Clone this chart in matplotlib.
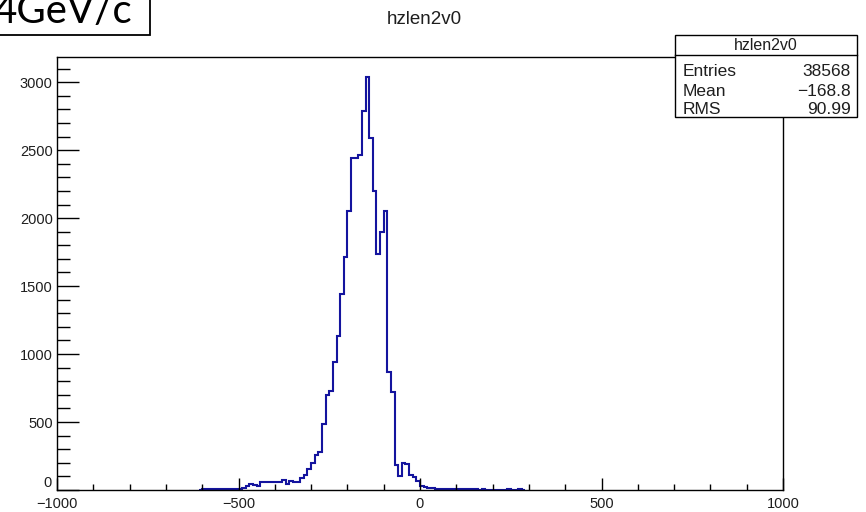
import matplotlib
matplotlib.use("Agg")
import numpy as np
import matplotlib.pyplot as plt
from matplotlib.patches import Rectangle
from matplotlib.ticker import MultipleLocator

# ---------------- data ----------------
hist_title = "hzlen2v0"
bin_width = 10
first_bin_left = -610
counts = [
    3, 5, 4, 6, 5, 6, 8, 7, 9, 8, 10, 9, 12,            # -610 .. -490
    29, 44, 40, 30, 61, 61, 61, 61, 61, 61,              # -480 .. -390
    74, 44, 69, 59, 59, 86, 110, 152, 196, 257, 282,     # -380 .. -280
    483, 698, 730, 944, 1132, 1441, 1716, 2051,          # -270 .. -200
    2439, 2439, 2463, 2789, 3039, 2586, 2201, 1733,      # -190 .. -120
    1900, 2051, 870, 718, 184, 103, 196, 190,            # -110 .. -40
    110, 93, 69,                                         # -30 .. -10
    29, 22, 15, 12, 8, 10, 6, 5, 8, 6, 10, 5, 6, 4, 5,   # 0 .. 140
    4, 3, 4, 3, 0, 0, 0, 0, 0, 4, 0, 0, 4, 3,            # 150 .. 280
]
x_range = (-1000, 1000)
y_max = 3185
x_major = [-1000, -500, 0, 500, 1000]
y_major = [0, 500, 1000, 1500, 2000, 2500, 3000]
stat_names = ["Entries", "Mean", "RMS"]
stat_values = ["38568", "\u2212168.8", "90.99"]
corner_label = "4GeV/c"

# ---------------- figure ----------------
W, H = 866, 512
fig = plt.figure(figsize=(W / 100, H / 100), dpi=100)
fig.patch.set_facecolor("white")
FONT = ["Liberation Sans", "DejaVu Sans"]
TXT = "#1e1e1e"


def fx(px):
    return px / W


def fy(py):
    return 1 - py / H


ax = fig.add_axes([fx(57), fy(490), fx(783) - fx(57), fy(57) - fy(490)])

edges = first_bin_left + bin_width * np.arange(len(counts) + 1)
ax.stairs(counts, edges, color="#14149e", lw=1.5, zorder=1)

ax.set_xlim(*x_range)
ax.set_ylim(0, y_max)
ax.set_xticks(x_major)
ax.set_xticklabels([f"{v}".replace("-", "\u2212") for v in x_major],
                   fontfamily=FONT, fontsize=10.5)
ax.set_yticks(y_major)
ax.set_yticklabels([("" if v == 0 else str(v)) for v in y_major],
                   fontfamily=FONT, fontsize=10.5)
ax.xaxis.set_minor_locator(MultipleLocator(100))
ax.yaxis.set_minor_locator(MultipleLocator(100))
ax.tick_params(axis="x", which="major", direction="in", length=9, width=1.0,
               pad=5, labelcolor=TXT)
ax.tick_params(axis="x", which="minor", direction="in", length=4.5, width=1.0)
ax.tick_params(axis="y", which="major", direction="in", length=16, width=1.0,
               pad=3, labelcolor=TXT)
ax.tick_params(axis="y", which="minor", direction="in", length=9, width=1.0)
ax.tick_params(top=False, right=False)
for s in ax.spines.values():
    s.set_linewidth(1.0)
    s.set_zorder(3)

# y "0" label sits just above the axis like ROOT does
ax.text(-0.008, 0.002, "0", transform=ax.get_yaxis_transform(), ha="right",
        va="bottom", fontfamily=FONT, fontsize=10.5, color=TXT)

# title
fig.text(fx(424), fy(19), hist_title, ha="center", va="center",
         fontfamily=FONT, fontsize=13.5, color=TXT)

# stats box
bx0, by0, bx1, by1 = 675, 35, 857, 117
fig.patches.append(Rectangle((fx(bx0), fy(by1)), fx(bx1) - fx(bx0),
                             fy(by0) - fy(by1), transform=fig.transFigure,
                             facecolor="white", edgecolor="black", lw=1.0,
                             zorder=5))
fig.add_artist(plt.Line2D([fx(bx0), fx(bx1)], [fy(55), fy(55)],
                          transform=fig.transFigure, color="black", lw=1.0,
                          zorder=6))
fig.text(fx((bx0 + bx1) / 2), fy(45.5), hist_title, ha="center", va="center",
         fontfamily=FONT, fontsize=11.5, color=TXT, zorder=7)
for i, (n, v) in enumerate(zip(stat_names, stat_values)):
    yy = 72 + 19 * i
    fig.text(fx(683), fy(yy), n, ha="left", va="center", fontfamily=FONT,
             fontsize=12.5, color=TXT, zorder=7)
    fig.text(fx(851), fy(yy), v, ha="right", va="center", fontfamily=FONT,
             fontsize=12.5, color=TXT, zorder=7)

# cropped corner label box
fig.patches.append(Rectangle((fx(-10), fy(35)), fx(150) - fx(-10),
                             fy(-10) - fy(35), transform=fig.transFigure,
                             facecolor="white", edgecolor="black", lw=1.3,
                             zorder=5))
fig.text(fx(-7), fy(23), corner_label, ha="left", va="baseline",
         fontfamily=["Lato", "DejaVu Sans"], fontsize=29, color="black",
         zorder=7)

fig.savefig("out.png", dpi=100)
